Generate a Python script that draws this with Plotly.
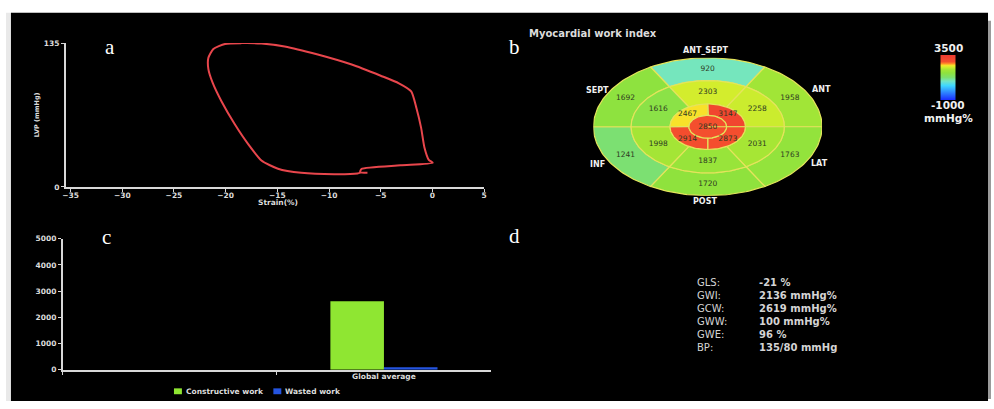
import math
import plotly.graph_objects as go
from plotly.colors import sample_colorscale

W, H = 994, 409

# ---------------- data ----------------
# (a) pressure-strain loop
strain = [-6.28, -6.99, -6.86, -3.08, 0.03, -0.35, -0.77, -1.09, -1.54, -2.05, -3.24, -5.0,
          -7.88, -11.09, -14.29, -16.54, -18.46, -20.06, -21.19, -21.67, -21.67, -21.28,
          -20.38, -19.1, -17.82, -16.54, -14.94, -12.69, -9.49, -7.24, -6.95]
pressure = [13.2, 13.8, 16.8, 20.2, 22.7, 25.4, 37.0, 55.4, 73.8, 89.7, 97.3, 104.4,
            115.1, 124.3, 131.9, 134.6, 135.0, 134.2, 129.5, 121.2, 110.5, 98.3,
            79.9, 58.5, 40.1, 24.8, 17.1, 13.2, 11.9, 12.6, 13.4]
strain_ticks = [-35, -30, -25, -20, -15, -10, -5, 0, 5]
lvp_ticks = [0, 135]

# (b) bull's-eye myocardial work index (mmHg%)
wall_names = ["ANT_SEPT", "ANT", "LAT", "POST", "INF", "SEPT"]
basal = [920, 1958, 1763, 1720, 1241, 1692]
mid = [2303, 2258, 2031, 1837, 1998, 1616]
apical = [3147, 2873, 2914, 2467]   # upper-right, lower-right, lower-left, upper-left
apex = [2850]
cmin, cmax = -1000, 3500

# (c) constructive / wasted work
bar_cats = [" ", "Global average"]
constructive = [None, 2619]
wasted = [None, 100]
work_ticks = [0, 1000, 2000, 3000, 4000, 5000]
series_names = ["Constructive work", "Wasted work"]
series_colors = ["#8fe632", "#2454e0"]

# (d) global indices
idx_labels = ["GLS:", "GWI:", "GCW:", "GWW:", "GWE:", "BP:"]
idx_values = ["-21 %", "2136 mmHg%", "2619 mmHg%", "100 mmHg%", "96 %", "135/80 mmHg"]

# ---------------- helpers ----------------
def px(x):
    return x / W

def py(y):
    return 1 - y / H

colorscale = [
    [0.00, "#1a2cff"], [0.18, "#2f8cff"], [0.32, "#3fd8ff"], [0.42, "#74e6c4"],
    [0.50, "#7ce070"], [0.60, "#8ee23e"], [0.68, "#a8e634"], [0.74, "#d8ee2c"],
    [0.77, "#f8e22a"], [0.81, "#ff8a28"], [0.85, "#f4502e"], [1.00, "#ee3a30"],
]

def vcolor(v):
    f = (v - cmin) / (cmax - cmin)
    return sample_colorscale(colorscale, [max(0, min(1, f))])[0]

SANS = "DejaVu Sans, Verdana, sans-serif"
AX_FONT = dict(family=SANS, size=7.5, color="#dcdcdc", weight="bold")
fig = go.Figure()

# ---------------- (a) loop ----------------
fig.add_trace(go.Scatter(
    x=strain, y=pressure, mode="lines", xaxis="x", yaxis="y",
    line=dict(color="#e8464c", width=2, shape="spline", smoothing=0.6),
    showlegend=False, hoverinfo="skip"))

# ---------------- (b) bull's-eye ----------------
def sector(r0, r1, a0, a1, n=40):
    xs, ys = [], []
    for i in range(n + 1):
        t = math.radians(a0 + (a1 - a0) * i / n)
        xs.append(r1 * math.cos(t)); ys.append(r1 * math.sin(t))
    for i in range(n + 1):
        t = math.radians(a1 - (a1 - a0) * i / n)
        xs.append(r0 * math.cos(t)); ys.append(r0 * math.sin(t))
    xs.append(xs[0]); ys.append(ys[0])
    return xs, ys

rings = [
    (basal, 0.67, 1.0, [90, 30, -30, -90, -150, 150], 60, 0.83),
    (mid, 0.33, 0.67, [90, 30, -30, -90, -150, 150], 60, 0.50),
    (apical, 0.165, 0.33, [45, -45, -135, 135], 90, 0.25),
]
seg_lbl_x, seg_lbl_y, seg_lbl_t = [], [], []
for vals, r0, r1, centers, span, rl in rings:
    for v, c in zip(vals, centers):
        xs, ys = sector(r0, r1, c - span / 2, c + span / 2)
        fig.add_trace(go.Scatter(
            x=xs, y=ys, mode="lines", fill="toself", fillcolor=vcolor(v),
            line=dict(color="#e4e45c", width=1.2), xaxis="x3", yaxis="y3",
            showlegend=False, hoverinfo="skip"))
        seg_lbl_x.append(rl * math.cos(math.radians(c)))
        seg_lbl_y.append(rl * math.sin(math.radians(c)))
        seg_lbl_t.append(str(v))
xs, ys = sector(0, 0.165, 0, 360, n=80)
fig.add_trace(go.Scatter(
    x=xs, y=ys, mode="lines", fill="toself", fillcolor=vcolor(apex[0]),
    line=dict(color="#e4e45c", width=1.2), xaxis="x3", yaxis="y3",
    showlegend=False, hoverinfo="skip"))
seg_lbl_x.append(0); seg_lbl_y.append(0); seg_lbl_t.append(str(apex[0]))

fig.add_trace(go.Scatter(
    x=seg_lbl_x, y=seg_lbl_y, text=seg_lbl_t, mode="text", xaxis="x3", yaxis="y3",
    textfont=dict(family=SANS, size=7.5, color="#2e3a22"),
    showlegend=False, hoverinfo="skip"))

# colorbar carrier
fig.add_trace(go.Scatter(
    x=[0, 0], y=[0, 0], mode="markers", xaxis="x3", yaxis="y3",
    marker=dict(size=1, opacity=0, color=[cmin, cmax], colorscale=colorscale,
                cmin=cmin, cmax=cmax, showscale=True,
                colorbar=dict(x=px(951), xanchor="center", y=py(75), yanchor="middle",
                              len=46 / H, lenmode="fraction", thickness=15,
                              thicknessmode="pixels", showticklabels=False, ticks="",
                              outlinewidth=0, xpad=0, ypad=0)),
    showlegend=False, hoverinfo="skip"))

# ---------------- (c) bars ----------------
for name, vals, col in zip(series_names, [constructive, wasted], series_colors):
    fig.add_trace(go.Bar(x=bar_cats, y=vals, name=name,
                         marker=dict(color=col, line=dict(width=0)),
                         xaxis="x2", yaxis="y2", showlegend=False))

# ---------------- layout ----------------
axis_common = dict(showgrid=False, zeroline=False, showline=True, linecolor="#d8d8d8",
                   linewidth=1.5, ticks="outside", tickcolor="#d8d8d8", ticklen=3,
                   tickwidth=1, tickfont=AX_FONT)

fig.update_layout(
    width=W, height=H, margin=dict(l=0, r=0, t=0, b=0),
    paper_bgcolor="white", plot_bgcolor="rgba(0,0,0,0)",
    barmode="group", bargap=0.5, bargroupgap=0,
    xaxis=dict(domain=[px(63), px(484)], range=[-35.48, 5], tickvals=strain_ticks,
               anchor="y", ticklabelstandoff=-3, **axis_common),
    yaxis=dict(domain=[py(187), py(40)], range=[0, 135], tickvals=lvp_ticks,
               anchor="x", **axis_common),
    xaxis2=dict(domain=[px(60), px(491)], type="category", categoryorder="array",
                categoryarray=bar_cats, tickson="boundaries", anchor="y2",
                ticklabelstandoff=-2, **axis_common),
    yaxis2=dict(domain=[py(374), py(240)], range=[0, 5000], tickvals=work_ticks,
                anchor="x2", **axis_common),
    xaxis3=dict(domain=[px(594), px(824)], range=[-1, 1], visible=False, anchor="y3"),
    yaxis3=dict(domain=[py(196), py(55)], range=[-1, 1], visible=False, anchor="x3"),
    showlegend=False,
)

shapes = [
    dict(type="rect", xref="paper", yref="paper", x0=px(3), x1=px(9), y0=py(406), y1=py(9),
         fillcolor="#e9e9e9", line=dict(width=0), layer="below"),
    dict(type="rect", xref="paper", yref="paper", x0=px(8), x1=px(991), y0=py(406), y1=py(9),
         fillcolor="#000000", line=dict(width=0), layer="below"),
    dict(type="rect", xref="paper", yref="paper", x0=px(991), x1=px(994), y0=py(404), y1=py(17),
         fillcolor="#9a9a9a", line=dict(width=0), layer="below"),
]
# manual legend swatches for panel c
legend_x = [172, 272]
for lx, col in zip(legend_x, series_colors):
    shapes.append(dict(type="rect", xref="paper", yref="paper", x0=px(lx), x1=px(lx + 8),
                       y0=py(399), y1=py(393), fillcolor=col, line=dict(width=0)))
fig.update_layout(shapes=shapes)

ann = []
def text(x, y, t, size, color="#e0e0e0", family=SANS, bold=False,
         xanchor="center", angle=0, align="center"):
    ann.append(dict(x=px(x), y=py(y), xref="paper", yref="paper", text=f"<b>{t}</b>" if bold else t,
                    showarrow=False, xanchor=xanchor, yanchor="middle", textangle=angle,
                    align=align, font=dict(size=size, color=color, family=family)))

serif = "Liberation Serif, Times New Roman"
text(108, 44, "a", 21, "white", serif)
text(515, 44, "b", 21, "white", serif)
text(104, 238, "c", 21, "white", serif)
text(515, 237, "d", 21, "white", serif)

text(277, 203, "Strain(%)", 7.5, "#dcdcdc", bold=True)
text(34, 113, "LVP (mmHg)", 6.5, "#dcdcdc", bold=True, angle=-90)

for lx, name in zip(legend_x, series_names):
    text(lx + 10, 396, name, 7.5, "#dcdcdc", bold=True, xanchor="left")

text(527, 30, "Myocardial work index", 10, "#dcdcdc", bold=True, xanchor="left")
text(707, 48, "ANT_SEPT", 8, "#f0f0f0", bold=True)
text(823, 87, "ANT", 8, "#f0f0f0", bold=True)
text(598, 88, "SEPT", 8, "#f0f0f0", bold=True)
text(598, 164, "INF", 8, "#f0f0f0", bold=True)
text(821, 163, "LAT", 8, "#f0f0f0", bold=True)
text(706, 202, "POST", 8, "#f0f0f0", bold=True)
text(951, 45, "3500", 10.5, "#f0f0f0", bold=True)
text(951, 103, "-1000", 10.5, "#f0f0f0", bold=True)
text(951, 117, "mmHg%", 10.5, "#f0f0f0", bold=True)

# panel d: two multi-line columns
text(696, 318, "<br>".join(idx_labels), 10, "#d4d4d4", xanchor="left", align="left")
text(759, 318, "<br>".join(f"<b>{v}</b>" for v in idx_values), 10, "#d4d4d4",
     xanchor="left", align="left")

fig.update_layout(annotations=ann)
fig.write_html("out.html", config={"displayModeBar": False},
               post_script="document.body.style.margin='0px';")
